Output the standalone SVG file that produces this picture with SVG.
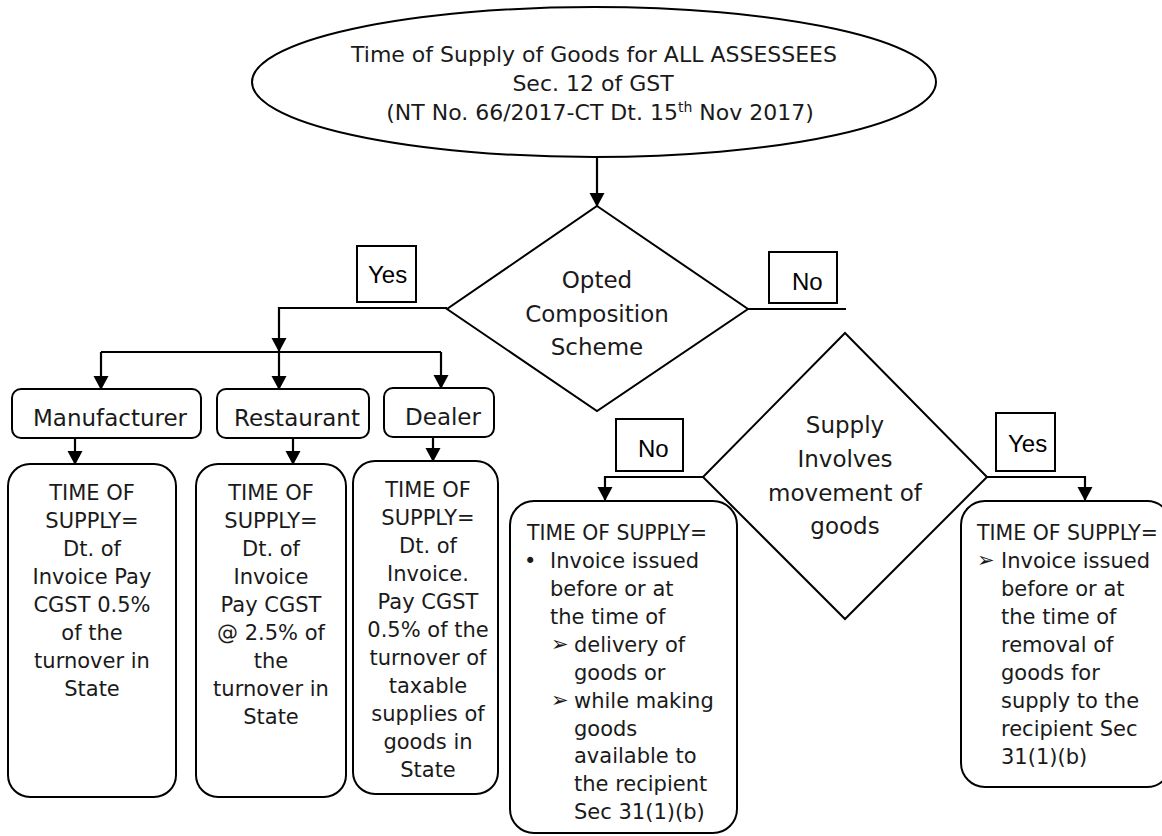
<svg xmlns="http://www.w3.org/2000/svg" width="1162" height="836" viewBox="0 0 1162 836">
<defs>
<marker id="ah" markerUnits="userSpaceOnUse" markerWidth="14" markerHeight="16" refX="13" refY="7.5" orient="auto">
<path d="M0,0 L14,7.5 L0,15 z" fill="#000"/>
</marker>
<style>
.sh{fill:#fff;stroke:#000;stroke-width:2}
.lb{fill:#fff;stroke:#000;stroke-width:2}
.cn{fill:none;stroke:#000;stroke-width:2.2}
.t{font-family:"DejaVu Sans","Liberation Sans",sans-serif;fill:#1a1a1a}
.b{font-size:21px}
.h{font-size:23px}
.ar{font-size:21px}
.y{font-family:"Liberation Sans",Arial,sans-serif;font-size:24px;fill:#000}
.c{text-anchor:middle}
</style>
</defs>
<rect width="1162" height="836" fill="#fff"/>

<g id="connectors">
<line class="cn" x1="597" y1="157" x2="597" y2="206" marker-end="url(#ah)"/>
<polyline class="cn" points="447,308 279,308 279,351" marker-end="url(#ah)"/>
<line class="cn" x1="101" y1="352" x2="441" y2="352"/>
<line class="cn" x1="101" y1="352" x2="101" y2="389" marker-end="url(#ah)"/>
<line class="cn" x1="279" y1="352" x2="279" y2="389" marker-end="url(#ah)"/>
<line class="cn" x1="441" y1="352" x2="441" y2="388" marker-end="url(#ah)"/>
<line class="cn" x1="75" y1="438" x2="75" y2="464" marker-end="url(#ah)"/>
<line class="cn" x1="293" y1="438" x2="293" y2="464" marker-end="url(#ah)"/>
<line class="cn" x1="433" y1="437" x2="433" y2="461" marker-end="url(#ah)"/>
<line class="cn" x1="748" y1="309" x2="846" y2="309"/>
<polyline class="cn" points="703,477 605,477 605,500" marker-end="url(#ah)"/>
<polyline class="cn" points="987,477 1085,477 1085,500" marker-end="url(#ah)"/>
</g>

<g id="start">
<ellipse class="sh" cx="594" cy="82" rx="342" ry="75"/>
<text class="t c" font-size="22" x="594" y="62">Time of Supply of Goods for ALL ASSESSEES</text>
<text class="t c" font-size="22" x="593" y="91">Sec. 12 of GST</text>
<text class="t c" font-size="22" x="600" y="120">(NT No. 66/2017-CT Dt. 15<tspan font-size="14" baseline-shift="super">th</tspan> Nov 2017)</text>
</g>

<g id="decision1">
<polygon class="sh" points="597,206 748,309 597,411 447,309"/>
<text class="t h c" x="597" y="288">Opted</text>
<text class="t h c" x="597" y="322">Composition</text>
<text class="t h c" x="597" y="355">Scheme</text>
</g>

<g id="label-yes1">
<rect class="lb" x="357" y="246" width="59" height="56"/>
<text class="y" x="368" y="283">Yes</text>
</g>
<g id="label-no1">
<rect class="lb" x="769" y="252" width="68" height="51"/>
<text class="y" x="792" y="290">No</text>
</g>

<g id="manufacturer">
<rect class="sh" x="12" y="389" width="189" height="49" rx="9"/>
<text class="t h c" x="110" y="426">Manufacturer</text>
</g>
<g id="restaurant">
<rect class="sh" x="217" y="389" width="152" height="49" rx="9"/>
<text class="t h c" x="297" y="426">Restaurant</text>
</g>
<g id="dealer">
<rect class="sh" x="384" y="388" width="110" height="49" rx="9"/>
<text class="t h c" x="443" y="425">Dealer</text>
</g>

<g id="tos-manufacturer">
<rect class="sh" x="8" y="464" width="168" height="333" rx="22"/>
<text class="t b c" x="92" y="500">TIME OF</text>
<text class="t b c" x="92" y="528">SUPPLY=</text>
<text class="t b c" x="92" y="556">Dt. of</text>
<text class="t b c" x="92" y="584">Invoice Pay</text>
<text class="t b c" x="92" y="612">CGST 0.5%</text>
<text class="t b c" x="92" y="640">of the</text>
<text class="t b c" x="92" y="668">turnover in</text>
<text class="t b c" x="92" y="696">State</text>
</g>

<g id="tos-restaurant">
<rect class="sh" x="196" y="464" width="150" height="333" rx="22"/>
<text class="t b c" x="271" y="500">TIME OF</text>
<text class="t b c" x="271" y="528">SUPPLY=</text>
<text class="t b c" x="271" y="556">Dt. of</text>
<text class="t b c" x="271" y="584">Invoice</text>
<text class="t b c" x="271" y="612">Pay CGST</text>
<text class="t b c" x="271" y="640">@ 2.5% of</text>
<text class="t b c" x="271" y="668">the</text>
<text class="t b c" x="271" y="696">turnover in</text>
<text class="t b c" x="271" y="724">State</text>
</g>

<g id="tos-dealer">
<rect class="sh" x="353" y="461" width="145" height="333" rx="22"/>
<text class="t b c" x="428" y="497">TIME OF</text>
<text class="t b c" x="428" y="525">SUPPLY=</text>
<text class="t b c" x="428" y="553">Dt. of</text>
<text class="t b c" x="428" y="581">Invoice.</text>
<text class="t b c" x="428" y="609">Pay CGST</text>
<text class="t b c" x="428" y="637">0.5% of the</text>
<text class="t b c" x="428" y="665">turnover of</text>
<text class="t b c" x="428" y="693">taxable</text>
<text class="t b c" x="428" y="721">supplies of</text>
<text class="t b c" x="428" y="749">goods in</text>
<text class="t b c" x="428" y="777">State</text>
</g>

<g id="decision2">
<polygon class="sh" points="845,333 987,477 845,619 703,477"/>
<text class="t h c" x="845" y="433">Supply</text>
<text class="t h c" x="845" y="467">Involves</text>
<text class="t h c" x="845" y="501">movement of</text>
<text class="t h c" x="845" y="534">goods</text>
</g>

<g id="label-no2">
<rect class="lb" x="616" y="419" width="67" height="52"/>
<text class="y" x="638" y="457">No</text>
</g>
<g id="label-yes2">
<rect class="lb" x="996" y="413" width="59" height="58"/>
<text class="y" x="1008" y="452">Yes</text>
</g>

<g id="tos-no-movement">
<rect class="sh" x="510" y="501" width="227" height="332" rx="24"/>
<text class="t b" x="527" y="540" textLength="180" lengthAdjust="spacingAndGlyphs">TIME OF SUPPLY=</text>
<text class="t b" x="524" y="568">•</text>
<text class="t b" x="550" y="568">Invoice issued</text>
<text class="t b" x="550" y="596">before or at</text>
<text class="t b" x="550" y="624">the time of</text>
<text class="t ar" x="551" y="651">➢</text>
<text class="t b" x="574" y="652">delivery of</text>
<text class="t b" x="574" y="680">goods or</text>
<text class="t ar" x="551" y="707">➢</text>
<text class="t b" x="574" y="708">while making</text>
<text class="t b" x="574" y="736">goods</text>
<text class="t b" x="574" y="763">available to</text>
<text class="t b" x="574" y="791">the recipient</text>
<text class="t b" x="574" y="819">Sec 31(1)(b)</text>
</g>

<g id="tos-movement">
<rect class="sh" x="961" y="501" width="210" height="286" rx="24"/>
<text class="t b" x="977" y="540" textLength="181" lengthAdjust="spacingAndGlyphs">TIME OF SUPPLY=</text>
<text class="t ar" x="977" y="567">➢</text>
<text class="t b" x="1001" y="568">Invoice issued</text>
<text class="t b" x="1001" y="596">before or at</text>
<text class="t b" x="1001" y="624">the time of</text>
<text class="t b" x="1001" y="652">removal of</text>
<text class="t b" x="1001" y="680">goods for</text>
<text class="t b" x="1001" y="708">supply to the</text>
<text class="t b" x="1001" y="736">recipient Sec</text>
<text class="t b" x="1001" y="764">31(1)(b)</text>
</g>
</svg>
